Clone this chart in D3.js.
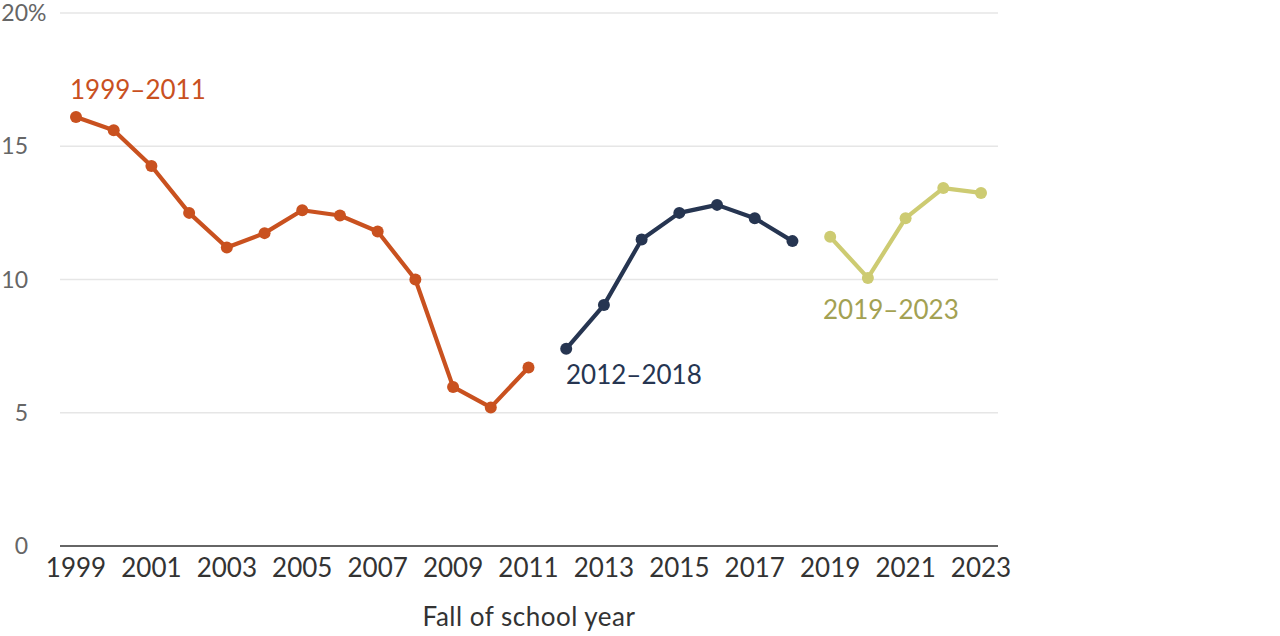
<!DOCTYPE html>
<html>
<head>
<meta charset="utf-8">
<script src="https://d3js.org/d3.v7.min.js"></script>
<style>
	body { margin: 0; background: #fff; font-family: Lato, "Open Sans", sans-serif; }
	.grid line { stroke: #e6e6e6; stroke-width: 1.5; }
	.ylab { fill: #666; font-size: 23px; }
	.xaxis text { fill: #333; font-size: 26px; }
</style>
</head>
<body>
<svg id="chart" width="1280" height="636"></svg>
<script>
// values
var years1 = [1999, 2000, 2001, 2002, 2003, 2004, 2005, 2006, 2007, 2008, 2009, 2010, 2011];
var vals1 = [16.1, 15.6, 14.26, 12.5, 11.2, 11.74, 12.6, 12.4, 11.8, 10.0, 5.97, 5.2, 6.7];
var years2 = [2012, 2013, 2014, 2015, 2016, 2017, 2018];
var vals2 = [7.4, 9.04, 11.5, 12.5, 12.8, 12.3, 11.44];
var years3 = [2019, 2020, 2021, 2022, 2023];
var vals3 = [11.6, 10.06, 12.3, 13.43, 13.25];
var yTicks = [0, 5, 10, 15, 20];
var xTicks = [1999, 2001, 2003, 2005, 2007, 2009, 2011, 2013, 2015, 2017, 2019, 2021, 2023];

var svg = d3.select("#chart");
var x = d3.scaleLinear().domain([1999, 2023]).range([76, 981]);
var y = d3.scaleLinear().domain([0, 20]).range([546, 13]);

// gridlines
svg.append("g").attr("class", "grid").selectAll("line")
	.data(yTicks.filter(function(d) { return d > 0; })).enter().append("line")
	.attr("x1", 60).attr("x2", 998)
	.attr("y1", function(d) { return y(d); }).attr("y2", function(d) { return y(d); });

// y labels, numbers right-aligned, "%" hanging past the edge on the top one
var numRight = 28;
var yl = svg.append("g").selectAll("text").data(yTicks).enter().append("text")
	.attr("class", "ylab")
	.attr("y", function(d) { return y(d) + 8; })
	.attr("text-anchor", "end")
	.text(function(d) { return d === 20 ? d + "%" : d; })
	.attr("x", numRight);
yl.filter(function(d) { return d === 20; }).each(function() {
	var pct = svg.append("text").attr("class", "ylab").text("%");
	var w = pct.node().getComputedTextLength();
	pct.remove();
	d3.select(this).attr("x", numRight + w);
});

// x axis
svg.append("line").attr("x1", 60).attr("x2", 998).attr("y1", 546).attr("y2", 546)
	.attr("stroke", "#666").attr("stroke-width", 2);
svg.append("g").attr("class", "xaxis").selectAll("text").data(xTicks).enter().append("text")
	.attr("x", function(d) { return x(d); })
	.attr("y", 577)
	.attr("text-anchor", "middle")
	.text(function(d) { return d; });
svg.append("text").attr("x", 529).attr("y", 626).attr("text-anchor", "middle")
	.attr("fill", "#333").style("font-size", "26px").style("letter-spacing", "0.5px")
	.text("Fall of school year");

var line = d3.line().x(function(d) { return x(d[0]); }).y(function(d) { return y(d[1]); });

function drawSeries(yrs, vals, color, label, lx, ly, lcolor) {
	var pts = d3.zip(yrs, vals);
	svg.append("path").datum(pts).attr("d", line)
		.attr("fill", "none").attr("stroke", color).attr("stroke-width", 4.2)
		.attr("stroke-linejoin", "round");
	svg.append("g").selectAll("circle").data(pts).enter().append("circle")
		.attr("cx", function(d) { return x(d[0]); })
		.attr("cy", function(d) { return y(d[1]); })
		.attr("r", 6).attr("fill", color);
	svg.append("text").attr("x", lx).attr("y", ly).attr("fill", lcolor)
		.style("font-size", "26px").text(label);
}

drawSeries(years1, vals1, "#c9511f", "1999–2011", 70, 99, "#c9511f");
drawSeries(years2, vals2, "#263551", "2012–2018", 566, 384, "#263551");
drawSeries(years3, vals3, "#cdcb72", "2019–2023", 823, 319, "#a3a152");
</script>
</body>
</html>
